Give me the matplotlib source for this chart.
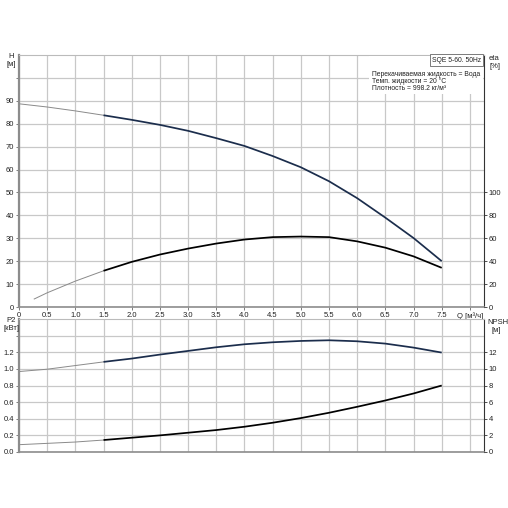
import matplotlib
matplotlib.use("Agg")
import matplotlib.pyplot as plt
import numpy as np

plt.rcParams['font.family'] = ['Liberation Sans', 'DejaVu Sans']

# Q in m3/h
Q = [0.0, 0.5, 1.0, 1.5, 2.0, 2.5, 3.0, 3.5, 4.0, 4.5, 5.0, 5.5, 6.0, 6.5, 7.0, 7.5]
H = [88.7, 87.3, 85.6, 83.7, 81.7, 79.5, 76.9, 73.7, 70.3, 65.9, 61.0, 54.9, 47.5, 39.0, 30.1, 20.0]
P2 = [0.968, 0.996, 1.04, 1.084, 1.124, 1.172, 1.216, 1.26, 1.296, 1.32, 1.336, 1.344, 1.332, 1.304, 1.256, 1.196]
NPSH = [0.88, 1.04, 1.2, 1.44, 1.72, 2.0, 2.32, 2.64, 3.04, 3.52, 4.08, 4.72, 5.44, 6.2, 7.04, 8.0]

Q_ETA = [0.27, 0.5, 1.0, 1.5, 2.0, 2.5, 3.0, 3.5, 4.0, 4.5, 5.0, 5.5, 6.0, 6.5, 7.0, 7.5]
ETA = [7.0, 12.4, 22.6, 31.6, 39.4, 45.8, 51.0, 55.4, 58.9, 61.0, 61.5, 61.0, 57.3, 51.8, 44.2, 34.2]

Q_TICKS = [0, 0.5, 1.0, 1.5, 2.0, 2.5, 3.0, 3.5, 4.0, 4.5, 5.0, 5.5, 6.0, 6.5, 7.0, 7.5, 8.0]
Q_LABELS = ['0', '0.5', '1.0', '1.5', '2.0', '2.5', '3.0', '3.5', '4.0', '4.5', '5.0',
            '5.5', '6.0', '6.5', '7.0', '7.5', 'Q [м³/ч]']
Q_START = 1.5   # curves are drawn thin below this flow

W = H_PX = 508
GRID = '#c8c8c8'
NAVY = '#1b2d4c'
FS = 5.5
FS_INFO = 4.9


def px(x, y):
    return x / W, 1 - y / H_PX


def split_plot(ax, xs, ys, color):
    xs = np.array(xs)
    ys = np.array(ys)
    lo = xs <= Q_START
    hi = xs >= Q_START
    ax.plot(xs[lo], ys[lo], color='#8a8a8a', lw=0.7, zorder=3)
    ax.plot(xs[hi], ys[hi], color=color, lw=1.25, zorder=3, solid_capstyle='butt',
            solid_joinstyle='round')


def style(ax):
    ax.set_xlim(0, 8.25)
    ax.set_xticks(Q_TICKS)
    ax.grid(True, color=GRID, lw=0.9)
    ax.set_axisbelow(True)
    ax.spines['left'].set_color('#8c8c8c')
    ax.spines['left'].set_linewidth(1.6)
    ax.spines['bottom'].set_color('#8c8c8c')
    ax.spines['bottom'].set_linewidth(1.2)
    ax.spines['top'].set_color('#bbbbbb')
    ax.spines['top'].set_linewidth(0.8)
    ax.spines['right'].set_color('#333333')
    ax.spines['right'].set_linewidth(0.8)
    ax.tick_params(labelsize=FS, length=2, width=0.6, color='#666666', pad=1.5,
                   labelcolor='#222222')


fig = plt.figure(figsize=(5.08, 5.08), dpi=100)

# head / efficiency
x0, y0 = px(19, 307)
x1, y1 = px(484, 55)
ax1 = fig.add_axes([x0, y0, x1 - x0, y1 - y0])
style(ax1)
ax1.set_ylim(0, 110)
ax1.set_yticks(np.arange(0, 101, 10))
ax1.set_yticklabels([str(v) for v in range(0, 100, 10)] + [''])
ax1.set_xticklabels(Q_LABELS)
split_plot(ax1, Q, H, NAVY)

ax1r = ax1.twinx()
ax1r.set_ylim(0, 220)
ax1r.set_yticks(np.arange(0, 101, 20))
for s in ax1r.spines.values():
    s.set_visible(False)
ax1r.tick_params(labelsize=FS, length=2, width=0.6, color='#333333', pad=1.5,
                 labelcolor='#222222')
split_plot(ax1r, Q_ETA, ETA, '#000000')

# power / npsh
x0, y0 = px(19, 452)
x1, y1 = px(484, 319)
ax2 = fig.add_axes([x0, y0, x1 - x0, y1 - y0])
style(ax2)
ax2.set_ylim(0, 1.6)
ax2.set_yticks(np.arange(0, 1.41, 0.2))
ax2.set_yticklabels(['0.0', '0.2', '0.4', '0.6', '0.8', '1.0', '1.2', ''])
ax2.tick_params(axis='x', labelbottom=False, length=0)
split_plot(ax2, Q, P2, NAVY)

ax2r = ax2.twinx()
ax2r.set_ylim(0, 16)
ax2r.set_yticks(np.arange(0, 13, 2))
for s in ax2r.spines.values():
    s.set_visible(False)
ax2r.tick_params(labelsize=FS, length=2, width=0.6, color='#333333', pad=1.5,
                 labelcolor='#222222')
split_plot(ax2r, Q, NPSH, '#000000')

# axis captions
tk = dict(fontsize=FS, color='#222222', transform=fig.transFigure)
fig.text(*px(11, 57), 'H', ha='center', va='center', **tk)
fig.text(*px(11, 65), '[м]', ha='center', va='center', **tk)
fig.text(*px(11, 321), 'P2', ha='center', va='center', **tk)
fig.text(*px(12, 329), '[кВт]', ha='center', va='center', **tk)
fig.text(*px(489, 58), 'eta', ha='left', va='center', **tk)
fig.text(*px(489, 66), '[%]', ha='left', va='center', **tk)
fig.text(*px(487, 322), 'NPSH', ha='left', va='center', **tk)
fig.text(*px(492, 331), '[м]', ha='left', va='center', **tk)

# info block in the corner
ti = dict(fontsize=FS_INFO, color='#222222', transform=fig.transFigure, zorder=6)
bx0, by0 = px(369, 94)
bx1, by1 = px(483, 56)
fig.patches.append(plt.Rectangle((bx0, by0), bx1 - bx0, by1 - by0, transform=fig.transFigure,
                                 facecolor='white', edgecolor='none', zorder=5))
fig.text(*px(456.5, 60), 'SQE 5-60. 50Hz', ha='center', va='center',
         bbox=dict(boxstyle='square,pad=0.3', facecolor='white', edgecolor='#666666', lw=0.6),
         **ti)
fig.text(*px(372, 74), 'Перекачиваемая жидкость = Вода', ha='left', va='center', **ti)
fig.text(*px(372, 81), 'Темп. жидкости = 20 °C', ha='left', va='center', **ti)
fig.text(*px(372, 88.5), 'Плотность = 998.2 кг/м³', ha='left', va='center', **ti)

fig.savefig('out.png', dpi=100, facecolor='white')
